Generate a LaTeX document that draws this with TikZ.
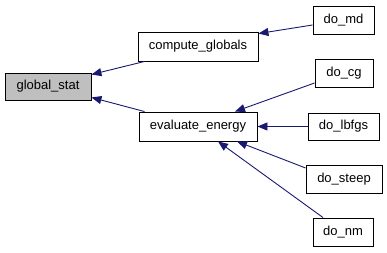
\documentclass[tikz,border=0pt]{standalone}
\usepackage{fontspec}
\setmainfont{Liberation Sans}
\usetikzlibrary{arrows.meta}
\definecolor{edgeblue}{HTML}{191970}
\definecolor{curfill}{HTML}{BFBFBF}
\tikzset{
  fn/.style={draw=black, line width=0.9pt, fill=white, inner sep=0pt,
    font=\fontsize{13}{15}\selectfont, anchor=center},
  cur/.style={fn, fill=curfill},
  call/.style={draw=edgeblue, line width=0.9pt,
    -{Triangle[length=10pt, width=8pt]}, shorten >=0pt},
}
\begin{document}
\begin{tikzpicture}[x=1pt, y=-1pt]
  \useasboundingbox (0,0) rectangle (387,253);

  % functions
  \node[cur, minimum width=86pt, minimum height=27pt] (gs) at (48,86.5) {global\_stat};
  \node[fn, minimum width=120pt, minimum height=29pt] (cg) at (198,46.5) {compute\_globals};
  \node[fn, minimum width=118pt, minimum height=29pt] (ee) at (198,126.5) {evaluate\_energy};
  \node[fn, minimum width=61pt, minimum height=28pt] (md) at (343.5,20) {do\_md};
  \node[fn, minimum width=58pt, minimum height=28pt] (dcg) at (344,73) {do\_cg};
  \node[fn, minimum width=71pt, minimum height=27pt] (lb) at (343.5,126.5) {do\_lbfgs};
  \node[fn, minimum width=76pt, minimum height=28pt] (st) at (344,179) {do\_steep};
  \node[fn, minimum width=60pt, minimum height=28pt] (nm) at (343,232) {do\_nm};

  % caller edges
  \draw[call] ([xshift=7pt]cg.south west) -- ([yshift=-2pt]gs.north east);
  \draw[call] ([xshift=6pt]ee.north west) -- ([yshift=3pt]gs.south east);
  \draw[call] ([yshift=-5pt]md.west) -- ([yshift=-2pt]cg.north east);
  \draw[call] ([yshift=-10pt]dcg.west) -- ([xshift=37pt]ee.north);
  \draw[call] (lb.west) -- (ee.east);
  \draw[call] ([yshift=11pt]st.west) -- ([xshift=39pt]ee.south);
  \draw[call] ([xshift=-20pt]nm.north) -- ([xshift=20pt]ee.south);
\end{tikzpicture}
\end{document}
